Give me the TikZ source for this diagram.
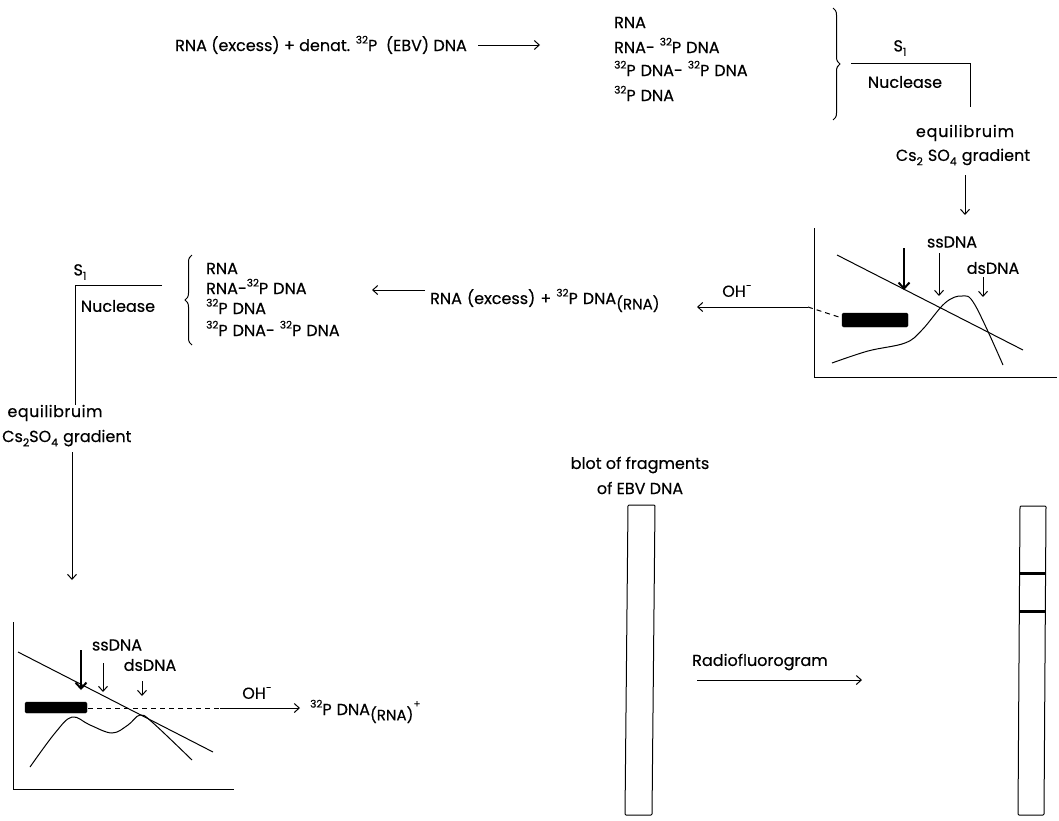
\documentclass[tikz,border=0pt]{standalone}
\usepackage{fontspec}
\setmainfont{Poppins}[FakeBold=0.35]
\usetikzlibrary{arrows.meta,decorations.pathreplacing}
\newcommand\sps[1]{\raisebox{0.85ex}{\fontsize{10.5}{10.5}\selectfont #1}}
\newcommand\sbs[1]{\raisebox{-0.5ex}{\fontsize{11}{11}\selectfont #1}}
\newcommand\bsbs[1]{\raisebox{-0.6ex}{\fontsize{15}{15}\selectfont #1}}
\newcommand\gap{\hspace{5pt}}
\begin{document}
\begin{tikzpicture}[x=1pt,y=-1pt,
  txt/.style={inner sep=0pt, font=\fontsize{16}{18}\selectfont, anchor=base west},
  ctxt/.style={inner sep=0pt, font=\fontsize{16}{18}\selectfont},
  arr/.style={-{Straight Barb[length=5pt,width=9pt]}, line width=1pt},
  ln/.style={line width=1pt},
  thick arr/.style={-{Straight Barb[length=6pt,width=11pt,line width=2pt]}, line width=2.8pt},
  brc/.style={decorate, decoration={brace, amplitude=7pt}, line width=1pt},
  bar/.style={fill=black, rounded corners=1.5pt},
  strip/.style={line width=1pt, rounded corners=1pt}]
\fill[white] (0,0) rectangle (1059,820);
\useasboundingbox (0,0) rectangle (1059,820);

% ---------- top row ----------
\node[txt] (t1) at (175,51) {RNA (excess) + denat. \sps{32}P\ \ (EBV) DNA};
\coordinate (a1s) at (478,45); \coordinate (a1e) at (540,45);
\draw[arr] (a1s) -- (a1e);
\node[txt] (tl1) at (614,28) {RNA};
\node[txt] (tl2) at (614,53) {RNA-\gap\sps{32}P\gap DNA};
\node[txt] (tl3) at (614,76) {\sps{32}P\gap DNA-\gap\sps{32}P\gap DNA};
\node[txt] (tl4) at (614,101) {\sps{32}P\gap DNA};
\coordinate (b1t) at (833,8); \coordinate (b1b) at (833,120);
\draw[brc] (b1t) -- (b1b);
\node[ctxt] (s1a) at (900,48) {S\sbs{1}};
\node[ctxt] (nuc1) at (905,82) {Nuclease};
\coordinate (n1a) at (851,63); \coordinate (n1b) at (970,63); \coordinate (n1c) at (970,107);
\draw[ln] (n1a) -- (n1b) -- (n1c);
\node[ctxt, font=\fontsize{16}{18}\selectfont\addfontfeature{LetterSpace=5}] (eq1) at (965,133) {equilibruim};
\node[ctxt] (gr1) at (963,157) {Cs\sbs{2}\gap SO\sbs{4}\gap gradient};
\coordinate (a2s) at (965,175); \coordinate (a2e) at (965,215);
\draw[arr] (a2s) -- (a2e);

% ---------- right graph ----------
\coordinate (g1top) at (814,228); \coordinate (g1o) at (814,377); \coordinate (g1r) at (1057,377);
\draw[ln] (g1top) -- (g1o) -- (g1r);
\coordinate (g1l1) at (837,255); \coordinate (g1l2) at (1023,350);
\draw[ln] (g1l1) -- (g1l2);
\draw[ln] plot[smooth, tension=0.6] coordinates {(832,363) (868,351) (905,343) (922,330) (945,303) (962,296) (975,305) (1003,365)};
\coordinate (ta1s) at (904,248); \coordinate (ta1e) at (904,290);
\draw[thick arr] (ta1s) -- (ta1e);
\node[ctxt] (ss1) at (952,242) {ssDNA};
\coordinate (sa1s) at (939,253); \coordinate (sa1e) at (939,296);
\draw[arr] (sa1s) -- (sa1e);
\node[ctxt] (ds1) at (993,268) {dsDNA};
\coordinate (da1s) at (983,277); \coordinate (da1e) at (983,297);
\draw[arr] (da1s) -- (da1e);
\draw[bar] (842,313) rectangle (908,327);
\coordinate (oh1s) at (808,307); \coordinate (oh1e) at (697,307); \coordinate (bar1) at (842,318);
\draw[ln, dashed, dash pattern=on 5pt off 4pt] (oh1s) -- (bar1);
\draw[arr] (oh1s) -- (oh1e);
\node[ctxt] (oh1) at (737,291) {OH\sps{-}};

% ---------- middle row ----------
\node[txt] (m1) at (430,304) {RNA\gap(excess)\gap +\gap\sps{32}P\gap DNA\bsbs{(RNA)}};
\coordinate (a3s) at (425,290); \coordinate (a3e) at (372,290);
\draw[arr] (a3s) -- (a3e);
\node[txt] (ml1) at (206,274) {RNA};
\node[txt] (ml2) at (206,294) {RNA-\sps{32}P\gap DNA};
\node[txt] (ml3) at (206,314) {\sps{32}P\gap DNA};
\node[txt] (ml4) at (206,336) {\sps{32}P\gap DNA-\gap\sps{32}P\gap DNA};
\coordinate (b2b) at (192,345); \coordinate (b2t) at (192,255);
\draw[brc] (b2b) -- (b2t);
\node[ctxt] (s1b) at (80,272) {S\sbs{1}};
\node[ctxt] (nuc2) at (118,306) {Nuclease};
\coordinate (n2a) at (162,285); \coordinate (n2b) at (75,285); \coordinate (n2c) at (75,405);
\draw[ln] (n2a) -- (n2b) -- (n2c);
\node[ctxt, font=\fontsize{16}{18}\selectfont\addfontfeature{LetterSpace=3}] (eq2) at (55,413) {equilibruim};
\node[txt] (gr2) at (2,442) {Cs\sbs{2}SO\sbs{4}\gap gradient};
\coordinate (a4s) at (72,452); \coordinate (a4e) at (72,580);
\draw[arr] (a4s) -- (a4e);

% ---------- bottom-left graph ----------
\coordinate (g2top) at (13,622); \coordinate (g2o) at (13,789); \coordinate (g2r) at (234,789);
\draw[ln] (g2top) -- (g2o) -- (g2r);
\coordinate (g2l1) at (18,652); \coordinate (g2l2) at (213,752);
\draw[ln] (g2l1) -- (g2l2);
\draw[ln] plot[smooth, tension=0.6] coordinates {(30,767) (55,733) (72,717) (90,725) (112,733) (128,725) (140,715) (152,722) (192,760)};
\coordinate (ta2s) at (81,650); \coordinate (ta2e) at (81,690);
\draw[thick arr] (ta2s) -- (ta2e);
\node[ctxt] (ss2) at (117,645) {ssDNA};
\coordinate (sa2s) at (103,663); \coordinate (sa2e) at (103,692);
\draw[arr] (sa2s) -- (sa2e);
\node[ctxt] (ds2) at (150,665) {dsDNA};
\coordinate (da2s) at (142,681); \coordinate (da2e) at (142,696);
\draw[arr] (da2s) -- (da2e);
\draw[bar] (25,702) rectangle (87,713);
\coordinate (bar2) at (88,708); \coordinate (oh2s) at (220,708); \coordinate (oh2e) at (300,708);
\draw[ln, dashed, dash pattern=on 5pt off 4pt] (bar2) -- (oh2s);
\draw[arr] (oh2s) -- (oh2e);
\node[ctxt] (oh2) at (257,693) {OH\sps{-}};
\node[txt] (fin) at (310,715) {\sps{32}P\gap DNA\bsbs{(RNA)}\sps{+}};

% ---------- strips ----------
\node[ctxt] (blot1) at (640,465) {blot of fragments};
\node[ctxt] (blot2) at (640,488) {of EBV DNA};
\draw[strip] (628,505) -- (655,505) -- (652,815) -- (625,815) -- cycle;
\node[ctxt] (radio) at (760,662) {Radiofluorogram};
\coordinate (a5s) at (697,680); \coordinate (a5e) at (862,680);
\draw[arr] (a5s) -- (a5e);
\draw[strip] (1020,506) -- (1046,506) -- (1044,815) -- (1018,815) -- cycle;
\draw[line width=3pt] (1020,573) -- (1045,573);
\draw[line width=3pt] (1019,611) -- (1045,611);
\end{tikzpicture}
\end{document}
